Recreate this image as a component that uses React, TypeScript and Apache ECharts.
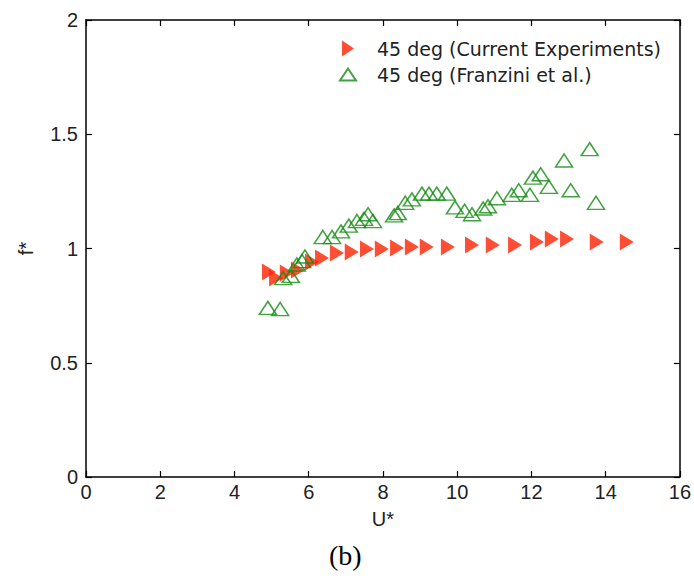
import React, { useEffect, useRef } from "react";
import * as echarts from "echarts";

const xTicks = [0, 2, 4, 6, 8, 10, 12, 14, 16];
const yTicks = [0, 0.5, 1, 1.5, 2];

const currentX = [4.93, 5.12, 5.41, 5.71, 6.09, 6.36, 6.76, 7.16, 7.57, 7.97, 8.38, 8.78, 9.18, 9.75, 10.4, 10.96, 11.56, 12.15, 12.55, 12.96, 13.76, 14.57];
const currentY = [0.897, 0.871, 0.893, 0.906, 0.941, 0.958, 0.98, 0.985, 0.998, 0.998, 1.002, 1.007, 1.007, 1.007, 1.015, 1.015, 1.015, 1.028, 1.042, 1.042, 1.028, 1.028];

const franziniX = [4.9, 5.23, 5.31, 5.52, 5.68, 5.82, 5.9, 6.38, 6.63, 6.87, 7.08, 7.3, 7.49, 7.6, 7.73, 8.3, 8.4, 8.6, 8.78, 9.05, 9.24, 9.45, 9.72, 9.94, 10.2, 10.4, 10.7, 10.83, 11.07, 11.47, 11.66, 11.96, 12.04, 12.25, 12.47, 12.88, 13.06, 13.57, 13.74];
const franziniY = [0.74, 0.735, 0.87, 0.88, 0.93, 0.945, 0.965, 1.05, 1.05, 1.075, 1.1, 1.12, 1.13, 1.15, 1.12, 1.145, 1.155, 1.2, 1.215, 1.24, 1.24, 1.24, 1.24, 1.18, 1.165, 1.15, 1.175, 1.185, 1.22, 1.235, 1.255, 1.235, 1.31, 1.325, 1.27, 1.385, 1.255, 1.435, 1.2];

const seriesNames = ["45 deg (Current Experiments)", "45 deg (Franzini et al.)"];

const FONT = "'Liberation Sans', Arial, Helvetica, sans-serif";
const LEGEND_FONT = "'DejaVu Sans', 'Liberation Sans', Arial, sans-serif";
const RED = "#ff2200";
const GREEN = "#108c10";
const RIGHT_TRI = "path://M0,0 L12,8 L0,16 Z";
const LEGEND_UP_TRI = "path://M0,0 M16,16 M0,14 L8,2 L16,14 Z";

export default function App() {
  const ref = useRef<HTMLDivElement>(null);
  useEffect(() => {
    if (!ref.current) return;
    const chart = echarts.init(ref.current, undefined, { renderer: "svg" });
    const axisLine = { show: true, onZero: false, lineStyle: { color: "#000", width: 1.5 } };
    const axisTick = { show: true, inside: true, length: 6, lineStyle: { color: "#000", width: 1.2 } };
    const label = { color: "#222", fontSize: 20, fontFamily: FONT };
    chart.setOption({
      animation: false,
      backgroundColor: "#fff",
      title: {
        text: "(b)",
        left: 324,
        top: 536,
        textStyle: { fontFamily: "'Liberation Serif', 'Times New Roman', serif", fontSize: 28, fontWeight: "normal", color: "#000" },
      },
      grid: { left: 86, right: 14, top: 20, bottom: 108, containLabel: false },
      legend: {
        orient: "vertical",
        left: 334,
        top: 34,
        itemWidth: 34,
        itemHeight: 16,
        itemGap: 7,
        align: "left",
        formatter: (name: string) => "{t|" + name + "}",
        textStyle: {
          color: "#222",
          fontSize: 19,
          fontFamily: LEGEND_FONT,
          rich: { t: { color: "#222", fontSize: 19, fontFamily: LEGEND_FONT, padding: [0, 0, 0, 7] } },
        },
        data: [
          { name: seriesNames[0], icon: RIGHT_TRI },
          { name: seriesNames[1], icon: LEGEND_UP_TRI },
        ],
      },
      xAxis: [
        {
          type: "value",
          min: xTicks[0],
          max: xTicks[xTicks.length - 1],
          interval: 2,
          position: "bottom",
          name: "U*",
          nameLocation: "middle",
          nameGap: 32,
          nameTextStyle: { color: "#222", fontSize: 20, fontFamily: FONT },
          axisLine,
          axisTick,
          axisLabel: { ...label, margin: 5 },
          splitLine: { show: false },
        },
        {
          type: "value",
          min: xTicks[0],
          max: xTicks[xTicks.length - 1],
          interval: 2,
          position: "top",
          axisLine,
          axisTick,
          axisLabel: { show: false },
          splitLine: { show: false },
        },
      ],
      yAxis: [
        {
          type: "value",
          min: yTicks[0],
          max: yTicks[yTicks.length - 1],
          interval: 0.5,
          position: "left",
          name: "f*",
          nameLocation: "middle",
          nameGap: 50,
          nameRotate: 90,
          nameTextStyle: { color: "#222", fontSize: 20, fontFamily: FONT },
          axisLine,
          axisTick,
          axisLabel: { ...label, margin: 8 },
          splitLine: { show: false },
        },
        {
          type: "value",
          min: yTicks[0],
          max: yTicks[yTicks.length - 1],
          interval: 0.5,
          position: "right",
          axisLine,
          axisTick,
          axisLabel: { show: false },
          splitLine: { show: false },
        },
      ],
      series: [
        {
          name: seriesNames[0],
          type: "scatter",
          symbol: RIGHT_TRI,
          symbolSize: [14, 17],
          itemStyle: { color: RED },
          data: currentX.map((x, i) => [x, currentY[i]]),
          z: 2,
        },
        {
          name: seriesNames[1],
          type: "scatter",
          symbol: "triangle",
          symbolSize: [17, 13],
          itemStyle: { color: "rgba(255,255,255,0)", borderColor: GREEN, borderWidth: 1.5 },
          data: franziniX.map((x, i) => [x, franziniY[i]]),
          z: 3,
        },
      ],
    });
    return () => chart.dispose();
  }, []);
  return <div ref={ref} style={{ width: 694, height: 585, position: "absolute", left: 0, top: 0 }} />;
}
